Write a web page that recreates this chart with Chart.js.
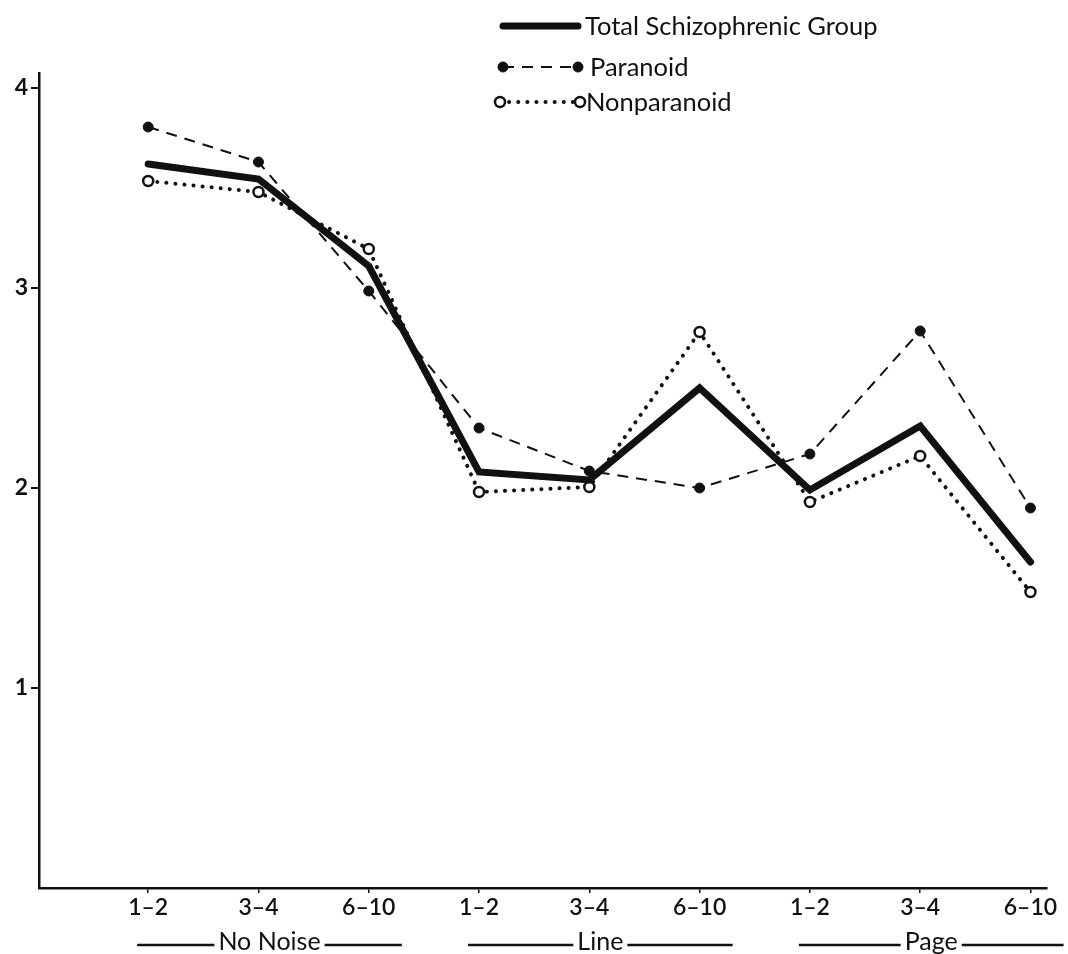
<!DOCTYPE html>
<html>
<head>
<meta charset="utf-8">
<script src="https://cdn.jsdelivr.net/npm/chart.js@4.4.1/dist/chart.umd.min.js"></script>
<style>
  html, body { margin: 0; padding: 0; background: #fff; }
  #wrap { width: 1068px; height: 954px; position: relative; }
</style>
</head>
<body>
<div id="wrap"><canvas id="grafico"></canvas></div>
<script>
// trial blocks along the x axis, grouped by noise condition
const categorias = ["1–2", "3–4", "6–10", "1–2", "3–4", "6–10", "1–2", "3–4", "6–10"];
const grupos = ["No Noise", "Line", "Page"];
const ticksY = [1, 2, 3, 4];

const totalGrupo = [3.62, 3.545, 3.11, 2.08, 2.04, 2.50, 1.99, 2.31, 1.63];
const paranoide = [3.805, 3.63, 2.985, 2.30, 2.085, 2.00, 2.17, 2.785, 1.90];
const naoParanoide = [3.535, 3.48, 3.195, 1.98, 2.005, 2.78, 1.93, 2.16, 1.48];

const nomesSeries = ["Total Schizophrenic Group", "Paranoid", "Nonparanoid"];

const COR = "#111";
const FONTE = "Lato, 'DejaVu Sans', sans-serif";

function pontos(valores) {
  return valores.map((v, i) => ({ x: i, y: v }));
}

function desenhaPonto(ctx, ds, x, y) {
  if (!ds.pointRadius) return;
  ctx.setLineDash([]);
  ctx.beginPath();
  ctx.arc(x, y, ds.pointRadius, 0, Math.PI * 2);
  ctx.fillStyle = ds.pointBackgroundColor;
  ctx.fill();
  ctx.lineWidth = ds.pointBorderWidth;
  ctx.strokeStyle = ds.pointBorderColor;
  ctx.stroke();
}

// legend stacked in three rows at the top, like the original figure
const legendaPlugin = {
  id: "legenda",
  afterDraw(chart) {
    const ctx = chart.ctx;
    const linhas = [26, 67, 102];
    const inicio = [503, 503, 500];
    const fim = [578, 578, 580];
    const texto = [585, 590, 586];
    chart.data.datasets.forEach((ds, i) => {
      const y = linhas[i];
      ctx.save();
      ctx.strokeStyle = ds.borderColor;
      ctx.lineWidth = ds.borderWidth;
      ctx.lineCap = ds.borderCapStyle || "butt";
      ctx.setLineDash(ds.borderDash || []);
      ctx.beginPath();
      ctx.moveTo(inicio[i], y);
      ctx.lineTo(fim[i], y);
      ctx.stroke();
      desenhaPonto(ctx, ds, inicio[i], y);
      desenhaPonto(ctx, ds, fim[i], y);
      ctx.fillStyle = COR;
      ctx.font = "25.5px " + FONTE;
      ctx.textBaseline = "middle";
      ctx.textAlign = "left";
      ctx.fillText(ds.label, texto[i], y + 1);
      ctx.restore();
    });
  }
};

// "—— No Noise ——" style labels under the tick labels
const gruposPlugin = {
  id: "grupos",
  afterDraw(chart) {
    const ctx = chart.ctx;
    const x = chart.scales.x;
    const y = 945;
    ctx.save();
    ctx.font = "25px " + FONTE;
    ctx.fillStyle = COR;
    ctx.strokeStyle = COR;
    ctx.lineWidth = 2.5;
    ctx.textAlign = "center";
    ctx.textBaseline = "middle";
    grupos.forEach((nome, g) => {
      const meio = x.getPixelForValue(g * 3 + 1.1);
      const esq = x.getPixelForValue(g * 3 - 0.1);
      const dir = x.getPixelForValue(g * 3 + 2.3);
      const larg = ctx.measureText(nome).width;
      ctx.beginPath();
      ctx.moveTo(esq, y);
      ctx.lineTo(meio - larg / 2 - 4, y);
      ctx.moveTo(meio + larg / 2 + 4, y);
      ctx.lineTo(dir, y);
      ctx.stroke();
      ctx.fillText(nome, meio, y - 3);
    });
    ctx.restore();
  }
};

const ctx = document.getElementById("grafico").getContext("2d");

new Chart(ctx, {
  type: "line",
  data: {
    datasets: [
      {
        label: nomesSeries[0],
        data: pontos(totalGrupo),
        borderColor: COR,
        borderWidth: 7,
        borderCapStyle: "round",
        borderJoinStyle: "miter",
        pointRadius: 0,
        order: 0
      },
      {
        label: nomesSeries[1],
        data: pontos(paranoide),
        borderColor: COR,
        borderWidth: 2,
        borderDash: [11, 8],
        pointRadius: 5,
        pointBackgroundColor: COR,
        pointBorderColor: COR,
        pointBorderWidth: 1,
        order: 1
      },
      {
        label: nomesSeries[2],
        data: pontos(naoParanoide),
        borderColor: COR,
        borderWidth: 4,
        borderDash: [0.1, 9],
        borderCapStyle: "round",
        pointRadius: 5,
        pointBackgroundColor: "#fff",
        pointBorderColor: COR,
        pointBorderWidth: 2.5,
        order: 2
      }
    ]
  },
  options: {
    responsive: true,
    maintainAspectRatio: false,
    animation: false,
    events: [],
    elements: { line: { tension: 0 } },
    layout: { padding: { top: 73, right: 21, left: 0, bottom: 0 } },
    plugins: {
      legend: { display: false },
      tooltip: { enabled: false }
    },
    scales: {
      x: {
        type: "linear",
        min: -0.99,
        max: 8.15,
        afterBuildTicks: (s) => { s.ticks = categorias.map((c, i) => ({ value: i })); },
        afterFit: (s) => { s.height = 66; },
        border: { display: true, color: COR, width: 2.5 },
        grid: { display: true, drawOnChartArea: false, drawTicks: true, tickLength: 5, color: COR, lineWidth: 1.5 },
        ticks: {
          autoSkip: false,
          maxRotation: 0,
          padding: 1,
          color: COR,
          font: { family: FONTE, size: 23, weight: "600" },
          callback: (v) => categorias[v]
        }
      },
      y: {
        min: 0,
        max: 4.075,
        afterBuildTicks: (s) => { s.ticks = ticksY.map((v) => ({ value: v })); },
        afterFit: (s) => { s.width = 39; },
        border: { display: true, color: COR, width: 2.5 },
        grid: { display: true, drawOnChartArea: false, drawTicks: true, tickLength: 8, color: COR, lineWidth: 2 },
        ticks: {
          padding: 3,
          color: COR,
          font: { family: FONTE, size: 23, weight: "bold" }
        }
      }
    }
  },
  plugins: [legendaPlugin, gruposPlugin]
});
</script>
</body>
</html>
